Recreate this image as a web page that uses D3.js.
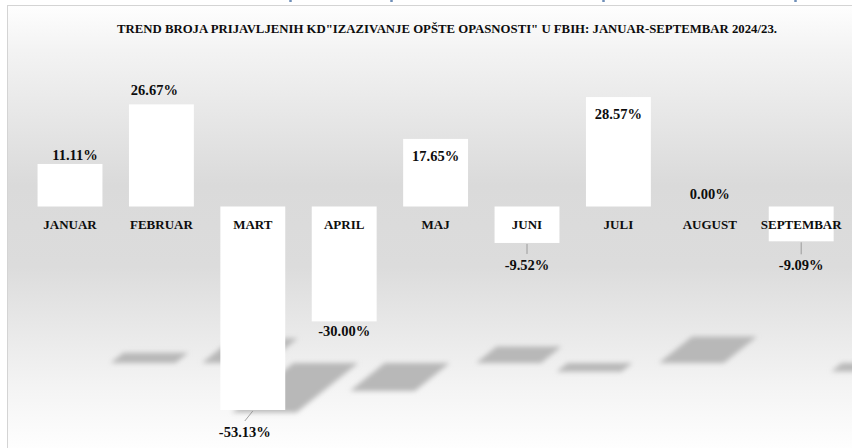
<!DOCTYPE html>
<html>
<head>
<meta charset="utf-8">
<script src="https://cdn.jsdelivr.net/npm/d3@7"></script>
<style>
  html, body { margin: 0; padding: 0; background: #ffffff; }
  svg { display: block; }
</style>
</head>
<body>
<div id="viz"></div>
<script>
var width = 852,
  height = 448;

// data
var months = ['JANUAR', 'FEBRUAR', 'MART', 'APRIL', 'MAJ', 'JUNI', 'JULI', 'AUGUST', 'SEPTEMBAR'];
var changes = [11.11, 26.67, -53.13, -30.00, 17.65, -9.52, 28.57, 0.00, -9.09];
var labelModes = ['above', 'above', 'callout', 'below', 'inside', 'callout', 'inside', 'above', 'callout'];
var labelNudges = [[5, 4], [-7, -1], [-8, 0], [0, 0], [0, 0], [0, 0], [0, 0], [0, 0], [0, 2]];
var yDomain = [-60, 40];
var title = 'TREND BROJA PRIJAVLJENIH KD"IZAZIVANJE OPŠTE OPASNOSTI" U FBIH: JANUAR-SEPTEMBAR 2024/23.';

var serif = '"Liberation Serif", "Times New Roman", serif';

var svg = d3.select('#viz').append('svg')
  .attr('width', width)
  .attr('height', height);

var defs = svg.append('defs');

var bg = defs.append('linearGradient')
  .attr('id', 'bgGrey')
  .attr('x1', '0%').attr('y1', '0%')
  .attr('x2', '0%').attr('y2', '100%');
[['0%', '#fefefe'], ['10%', '#f3f3f3'], ['40%', '#dadada'], ['58%', '#dcdcdc'], ['85%', '#f4f4f4'], ['100%', '#ffffff']]
  .forEach(function (s) {
    bg.append('stop').attr('offset', s[0]).attr('stop-color', s[1]);
  });

defs.append('filter')
  .attr('id', 'soft')
  .attr('x', '-20%').attr('y', '-40%')
  .attr('width', '140%').attr('height', '180%')
  .append('feGaussianBlur')
  .attr('stdDeviation', 2.5);

// cut-off heading above the chart
svg.selectAll('.clip')
  .data([289, 390, 602, 794])
  .enter().append('rect')
  .attr('x', function (d) { return d; })
  .attr('y', 0)
  .attr('width', 3)
  .attr('height', 2)
  .attr('rx', 1)
  .attr('fill', '#6f8fb8');

// chart area
svg.append('rect')
  .attr('x', 7.5)
  .attr('y', 5.5)
  .attr('width', 850)
  .attr('height', 450)
  .attr('fill', 'url(#bgGrey)')
  .attr('stroke', '#d4d4d4')
  .attr('stroke-width', 1);

svg.append('text')
  .attr('x', 447)
  .attr('y', 33)
  .attr('text-anchor', 'middle')
  .attr('font-family', serif)
  .attr('font-weight', 'bold')
  .attr('font-size', 12)
  .attr('fill', '#0d0d0d')
  .attr('textLength', 660)
  .attr('lengthAdjust', 'spacingAndGlyphs')
  .text(title);

var x = d3.scaleBand()
  .domain(months)
  .range([24.3, 846.9])
  .paddingInner(0.29)
  .paddingOuter(0.145);

var y = d3.scaleLinear()
  .domain(yDomain)
  .range([436.3, 53.3]);

// floor shadows
var floorY = 363;
var shadowH = d3.scaleLinear().domain([0, 1]).range([0, 0.93]);
var shear = 1.25;

var rows = months.map(function (m, i) {
  return { month: m, value: changes[i], mode: labelModes[i], nudge: labelNudges[i] };
});

svg.append('g')
  .attr('filter', 'url(#soft)')
  .selectAll('path')
  .data(rows.filter(function (d) { return d.value !== 0; }))
  .enter().append('path')
  .attr('fill', '#b8b8b8')
  .attr('d', function (d) {
    var x0 = x(d.month) + 73,
      bw = x.bandwidth(),
      h = shadowH(d.value);
    return 'M' + x0 + ',' + floorY +
      'L' + (x0 + bw) + ',' + floorY +
      'L' + (x0 + bw + shear * h) + ',' + (floorY - h) +
      'L' + (x0 + shear * h) + ',' + (floorY - h) + 'Z';
  });

// bars
svg.append('g')
  .selectAll('rect')
  .data(rows)
  .enter().append('rect')
  .attr('x', function (d) { return x(d.month); })
  .attr('width', x.bandwidth())
  .attr('y', function (d) { return Math.min(y(d.value), y(0)); })
  .attr('height', function (d) { return Math.abs(y(d.value) - y(0)); })
  .attr('fill', '#ffffff');

// category labels
svg.append('g')
  .selectAll('text')
  .data(rows)
  .enter().append('text')
  .attr('x', function (d) { return x(d.month) + x.bandwidth() / 2; })
  .attr('y', y(0) + 17.5)
  .attr('dy', '0.35em')
  .attr('text-anchor', 'middle')
  .attr('font-family', serif)
  .attr('font-weight', 'bold')
  .attr('font-size', 13)
  .attr('fill', '#0d0d0d')
  .text(function (d) { return d.month; });

// value labels
function labelX(d) {
  return x(d.month) + x.bandwidth() / 2 + d.nudge[0];
}

function labelY(d) {
  var v = y(d.value), off;
  if (d.mode === 'above') off = -13;
  else if (d.mode === 'inside') off = 17;
  else if (d.mode === 'below') off = 9.5;
  else off = 22;
  return v + off + d.nudge[1];
}

var callouts = rows.filter(function (d) { return d.mode === 'callout'; });

svg.append('g')
  .selectAll('line')
  .data(callouts)
  .enter().append('line')
  .attr('x1', function (d) { return x(d.month) + x.bandwidth() / 2; })
  .attr('y1', function (d) { return y(d.value) + 1; })
  .attr('x2', function (d) { return labelX(d); })
  .attr('y2', function (d) { return labelY(d) - 11; })
  .attr('stroke', '#8c8c8c')
  .attr('stroke-width', 0.8);

svg.append('g')
  .selectAll('text')
  .data(rows)
  .enter().append('text')
  .attr('x', labelX)
  .attr('y', labelY)
  .attr('dy', '0.35em')
  .attr('text-anchor', 'middle')
  .attr('font-family', serif)
  .attr('font-weight', 'bold')
  .attr('font-size', 14.5)
  .attr('fill', '#0d0d0d')
  .text(function (d) { return d.value.toFixed(2) + '%'; });
</script>
</body>
</html>
